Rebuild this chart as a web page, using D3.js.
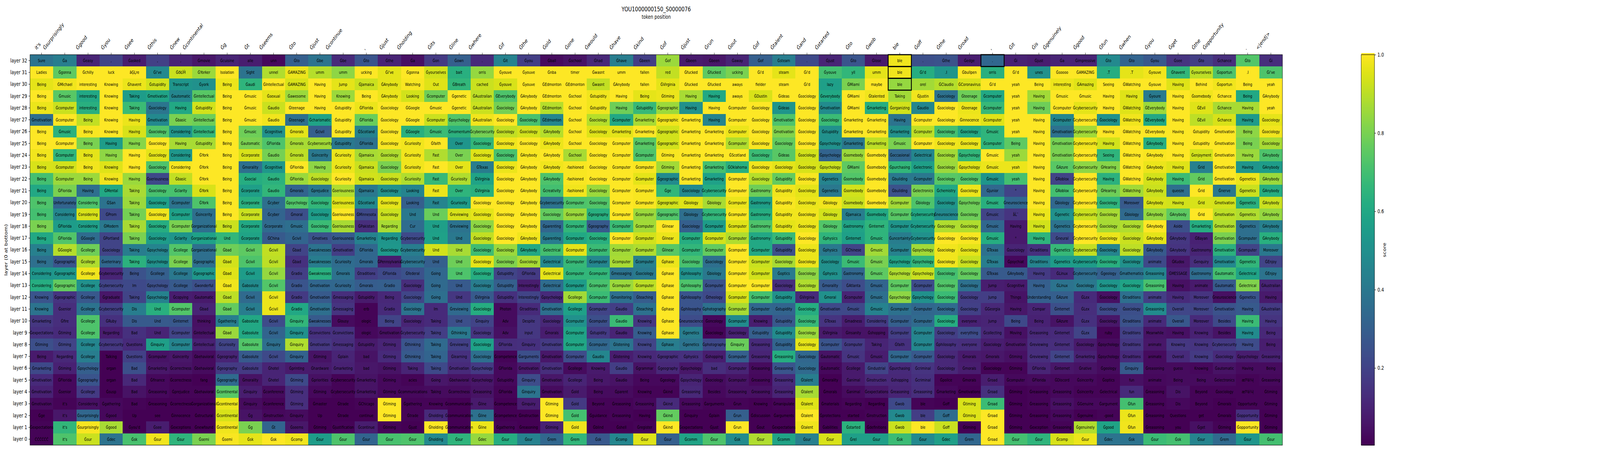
<!DOCTYPE html>
<html>
<head>
<meta charset="utf-8">
<script src="https://cdnjs.cloudflare.com/ajax/libs/d3/7.8.5/d3.min.js"></script>
<style>
  html, body { margin: 0; background: #fff; overflow: hidden; }
  text { font-family: "DejaVu Sans", sans-serif; fill: #000; }
</style>
</head>
<body>
<div id="chart"></div>
<script>
const title = "YOU1000000150_S0000076"
const xTitle = "token position"
const yTitle = "layer (0 at bottom)"
const cbarTitle = "score"

// input tokens, one per column
const inputTokens = ["it's","Ġsurprisingly","Ġgood","Ġyou","Ġsee","Ġthis","Ġnew","Ġcontinental","Ġg","Ġt","Ġseems","Ġto","Ġjust","Ġcontinue",",","Ġjust","Ġholding","Ġits","Ġline","Ġwhere","Ġif","Ġthe","Ġold","Ġone","Ġwould","Ġhave","Ġkind","Ġof","Ġjust","Ġrun","Ġout","Ġof","Ġtalent","Ġand","Ġstarted","Ġto","Ġwob","ble","Ġoff","Ġthe","Ġroad",",","Ġit","Ġis","Ġgenuinely","Ġgood","Ġfun","Ġwhen","Ġyou","Ġget","Ġthe","Ġopportunity",".","<|end|>"]
const layers = d3.range(32, -1, -1)
const colorbarTicks = [0.2, 0.4, 0.6, 0.8, 1.0]

// black boxes: [column, layer]
const boxedCells = [[37, 32], [37, 31], [37, 30], [41, 32]]

// top token per column, layer 32 first
const tokenColumns = [
"Sure Ladies Being Being Being Ġmotivation Being Being Being Being Being Being Being Being Being Being Being Being Considering Considering Knowing Knowing Ġmarketing Ġexpectations Ġtiming Being Ġmarketing Ġmotivation Ġmotivation Ġmotivation Ġge Ġexpectations ĊĊĊĊĊĊ",
"Ġa Ġgonna ĠMichael Ġmusic Ġcomputer Ġcomputer Ġmusic Ġcomputer Ġcomputer Ġcomputer Ġcomputer ĠFlorida Unfortunately Considering ĠFlorida ĠFlorida ĠGoogle Ġgeographic Ġgeographic Ġgeographic Ġgeographic Ġsenior Ġfire Ġtiming Ġtiming Regarding Ġtiming ĠFlorida Ġsenior it's it's it's it's",
"Ġeasy Ġchilly interesting interesting interesting Being Being Being Being Being Being Having Considering Considering Considering ĠGoogle Ġcollege Ġcollege Ġcollege Ġcollege Ġcollege Ġcollege Ġcollege Ġcollege Ġcollege Ġcollege Ġpsychology Ġgeography Ġcollege Considering Ġsurprisingly Ġsurprisingly Ġsur",
", luck Knowing Knowing Knowing Knowing Knowing Having Having Knowing Knowing ĠMental ĠSan ĠProm ĠModern ĠPortland Ġsociology Ġveterinary Ġcybersecurity Ġcybersecurity Ġgraduate Ġcybersecurity ĠRuby Regarding Ġcybersecurity Talking organ organ Ġsusp Ġgathering Ġgood Ġgood Ġdec",
"Ġasked âĢĻre Ġhavent Taking Taking Having Having Having Having Having Having Taking Taking Taking Taking Taking Taking Taking Being Im Taking Dis Dis Bad Questions Questions Bad Bad Bad Bad Up Ġyou'd Ġsk",
", Ġi've Ġstupidity Ġmotivation Ġsociology Ġmotivation Ġsociology Ġsociology Ġsociology Ġsociology Ġseriousness Ġsociology Ġsociology Ġsociology Ġsociology Ġsociology Ġpsychology Ġpsychology Ġcollege Ġpsychology Ġpsychology Und Und Und Ġinquiry Ġcomputer Ġmarketing Ġfinance Ġreasoning Ġreasoning see Ġsee Ġsur",
", ĠðŁĺĤ Transcript Ġautomatic Having Ġbasic Considering Having Considering Considering Ġbasic Ġclarity Ġcomputer Ġcomputer Ġcomputer Ġclarity Ġcollege Ġcollege Ġcollege Ġcollege Ġcopying Ġcomputer Ġinternet Ġcomputer Ġcomputer Ġsincerity Ġcorrectness Ġcorrectness Ġprejudice Ġcorrectness Ġinnocence Ġexceptions Ġsur",
"Ġmovie ĠYorker Ġyork Ġintellectual Ġstupidity Ġintellectual Ġintellectual Ġstupidity ĠYork ĠYork ĠYork ĠYork ĠYork Ġsincerity Ġorganizational Ġorganizational Ġorganizational Ġgeographic Ġgeographic Ġwonderful Ġautomatic Ġbad thinking Ġintellectual Ġintellectual Ġbehavioral Ġbehavioral fang Ġbehavioral Ġorganizational Ġstructural Ġnewfound Ġsemi",
"Ġcuisine Isolation Being Being Being Being Being Being Being Being Being Being Being Being Being Und Ġbad Ġbad Ġbad Ġbad Ġbad Ġbad Ġgathering Ġbad Ġcuriosity Ġgeography Ġgeography Ġgeography Ġcontinental Ġcontinental Ġcontinental Ġcontinental Ġsemi",
"alle Sight Ġaudi Ġmusic Ġmusic Ġmusic Ġmusic Ġautomatic Ġcorporate Ġmorality Ġsocial Ġcorporate Ġcorporate Ġcorporate Ġcorporate Ġcorporate Ġcivil Ġcivil Ġcivil Ġabsolute Ġcivil Ġcivil Ġabsolute Ġabsolute Ġabsolute Ġabsolute Ġabsolute Ġmorality Ġinquiry Ġinquiry Ġg Ġg Ġsk",
"unn unnel ĠIntellectual Ġsexual Ġaudio Ġaudio Ġcognitive ĠFlorida Ġaudio Ġcognitive Ġaudio Ġaudio Ġcyber Ġcyber Ġcorporate ĠChina Ġcivil Ġcivil Ġcivil Ġcivil Ġcivil Ġcivil Ġcivil Ġcivil Ġinquiry Ġcivil Ġhotel Ġhotel Ġconference Ġconference Ġinstruction Ġt Ġsk",
"Ġto ĠAMAZING ĠAMAZING Ġawesome Ġteenage Ġteenage Ġmorals Ġmorals Ġmorals ĠFlorida ĠFlorida Ġmorals Ġpsychology Ġmoral Ġmusic Ġcivil Ġbad Ġbad Ġradio Ġradio Ġradio Ġradio Ġinquiry Ġinquiry Ġinquiry Ġinquiry Ġprinting Ġtiming Ġtiming Ġtiming Ġinquiry Ġseems Ġcomp",
"Ġbe umm Having Having Having Ġcharismatic Ġcivil Ġcybersecurity Ġsincerity Having Ġsociology Ġprejudice Ġsociology Ġsociology Ġsociology Ġmotives Ġweaknesses Ġweaknesses Ġweaknesses Ġmotivation Ġmotivation Ġmotivation Ġweaknesses Ġconvictions Ġmotivation Ġtiming Ġhardware Ġpriorities Ġtiming Ġmaster Up Ġtiming Ġsur",
"Ġbe umm Jump Knowing Ġstupidity Ġstupidity Ġstupidity Ġstupidity Ġcuriosity Ġcuriosity Ġcuriosity Ġseriousness Ġseriousness Ġseriousness Ġseriousness Ġseriousness Ġmotivation Ġcuriosity Ġmorals Ġcuriosity Ġmessaging Ġmessaging Ġlousy Ġconvictions Ġmessaging Ġplain Ġmarketing Ġcybersecurity Ġcybersecurity Ġtrade Ġtrade Ġjustification Ġsur",
"Ġto ucking ĠJamaica Being ĠFlorida ĠFlorida ĠScotland ĠFlorida ĠJamaica ĠJamaica ĠJamaica ĠJamaica ĠScotland ĠMinnesota ĠPakistan Ġmarketing ĠFlorida Ġmorals Ġtraditions Ġmorals Ġstupidity erb ologic ologic Ġstupidity bad bad Ġmarketing Ġmarketing ĠChicago continue Ġcontinue Ġsur",
"Ġthe Ġi've ĠAnybody ĠAnybody Ġsociology Ġsociology Ġsociology Ġsociology Ġsociology Ġsociology Ġsociology Ġsociology Ġsociology Ġsociology Regarding Regarding Ġsociology ĠPennsylvania ĠFlorida Ġradio Being Ġradio Being Ġmotivation Ġtiming Ġtiming Ġtiming Ġtiming Ġtiming Ġtiming Ġtiming Ġtiming Ġsur",
"Ġa Ġgonna Watching Looking ĠGoogle ĠGoogle ĠGoogle Ġcuriosity Ġcuriosity Ġcuriosity Ġcuriosity Looking Looking Und Cur Ġcybersecurity Ġcybersecurity Ġcybersecurity Ġfederal Ġsociology Ġsociology Ġsociology Ġsociology Ġcybersecurity Ġthinking Ġthinking Taking acies Ġcommunications Ġgathering Ġtrade Ġjust Ġsur",
"Ġon Ġyourselves Out Ġcomputer Ġmusic Ġcomputer Ġmusic Ġfaith Fast Fast Fast Fast Fast Und Und Und Und Und Going Going Going Im Taking Taking Taking Taking Taking Going Taking Knowing Ġholding Ġholding Ġholding",
"Ġown bait ĠBreath Ġgenetic Ġgenetic Ġpsychology Ġmomentum Over Over Over Ġcuriosity Over Ġcuriosity Ġreviewing Ġreviewing Und Und Und Und Und Und Ġreviewing Und Ġthinking Ġreviewing Ġlearning Ġmotivation Ġbehavioral Ġcorrectness Ġcommunication Ġcommunication Ġcommunication Ġsur",
". orris cached ĠAustralian ĠAustralian ĠAustralian Ġcybersecurity Ġsociology Ġsociology ĠTexas ĠVirginia ĠVirginia Ġsociology Ġsociology Ġsociology Ġsociology Ġsociology Ġsociology Ġsociology Ġsociology ĠVirginia Ġsociology Ġinquiry Ġsociology Ġsociology Ġsociology Ġpsychology Ġpsychology Ġreasoning Ġline Ġline Ġline Ġdec",
"Ġit Ġyouve Ġyouve ĠEverybody Ġsociology Ġsociology Ġsociology Ġsociology Ġsociology Ġsociology Ġsociology Ġsociology Ġsociology Ġsociology Ġsociology Ġsociology Ġsociology Ġsociology Ġstupidity Ġstupidity Ġstupidity Photon Adv Adv ĠFlorida Ġcompetence ĠFlorida Ġstupidity ĠFlorida Ġcompetence Ġcompetence Ġgathering Ġsur",
"Ġyou Ġyouve Ġyouve ĠAnybody ĠAnybody Ġsociology Ġsociology Ġsociology ĠAnybody ĠAnybody ĠAnybody ĠAnybody ĠAnybody ĠAnybody ĠAnybody ĠAnybody ĠAnybody Ġsociology ĠFlorida Interestingly Interestingly Ġtraditions Despite input Ġinquiry Ġarguments Ġmotivation Ġinquiry Ġinquiry Ġinquiry Ġinstruction Ġreasoning Ġsur",
"Ġball Ġnba ĠEdmonton ĠEdmonton ĠEdmonton ĠEdmonton ĠAnybody ĠAnybody ĠAnybody ĠAnybody ĠAnybody Ġcreativity Ġcybersecurity Ġsociology Ġparenting Ġparenting Ġelectrical Ġelectrical Ġelectrical Ġelectrical Ġpsychology Ġmotivation Ġsociology Ġmorals Ġmotivation Ġmotivation Ġmotivation Ġmotivation Ġmotivation Ġtiming Ġtiming Ġtiming Ġrem",
"Ġschool timer ĠEdmonton Ġschool Ġschool Ġschool Ġschool Ġschool Ġschool -fashioned -fashioned -fashioned Ġcomputer Ġcomputer Ġcomputer Ġcomputer Ġcomputer Ġcomputer Ġcomputer Ġcomputer Ġcollege Ġcollege Ġcomputer Ġcomputer Ġcomputer Ġcomputer Ġcollege Ġcollege Ġold Ġold Ġold Ġold Ġrem",
"Ġhad Ġwasnt Ġwasnt Ġstupidity Ġstupidity Ġsociology Ġsociology Ġsociology Ġsociology Ġsociology Ġsociology Ġsociology Ġsociology Ġgeography Ġgeography Ġsociology Ġcomputer Ġcomputer Ġcomputer Ġcomputer Ġcomputer Ġcomputer Ġcomputer Ġstupidity Ġcomputer Ġaudio Knowing Being Being Beyond Ġguidance Ġblind Ġsk",
"Ġhave umm ĠAnybody Having Having Ġcomputer Ġmarketing Ġcomputer Ġcomputer Ġcomputer Ġcomputer Ġcomputer Ġcomputer Ġcomputer Ġcomputer Ġcomputer Ġcomputer Ġcomputer Ġmessaging Ġcomputer Ġmonitoring Ġaudio Ġaudio Ġaudio Ġlistening Ġlistening Ġaudio Ġaudio Ġparent Ġreasoning Ġreasoning Ġshell Ġcomp",
"Ġbeen fallen fallen Being Ġstupidity Ġmarketing Ġmarketing Ġmarketing Ġcomputer Ġcomputer Ġcomputer Ġcomputer Ġcomputer Ġcomputer Ġcomputer Ġcomputer Ġcomputer Ġcomputer Ġsociology Ġcomputer Ġteaching Ġteaching Knowing Knowing Knowing Knowing Ġgrammar Being Knowing Ġreasoning Having Ġregister Ġsur",
"Ġof red ĠVirginia Ġtiming Ġgeographic Ġgeographic Ġgeographic Ġgeographic Ġtiming Ġtiming Ġgeographic Ġge Ġgeographic Ġgeographic Ġlinear Ġlinear Ġlinear Ġphase Ġphase Ġphase Ġphase Ġphase Ġphase Ġphase Ġphase Ġgeographic Ġgeography Ġgeology Ġkind Ġkind Ġkind Ġkind Ġsur",
"Ġbeen Ġfucked Ġfucked Having Having Ġmarketing Ġmarketing Ġmarketing Ġmarketing Ġmarketing Ġmarketing Ġsociology Ġbiology Ġbiology Ġsociology Ġcomputer Ġcomputer Ġsociology Ġphilosophy Ġphilosophy Ġphilosophy Ġphilosophy Ġneuroscience Ġgenetics Ġgenetics Ġphysics Ġpsychology Ġpsychology Ġreasoning Ġreasoning Ġinquiry Ġexpectations Ġcomm",
"Ġbeen Ġfucked Ġfucked Having Having Having Ġmarketing Ġmarketing Ġmarketing Ġmarketing Ġmarketing Ġcybersecurity Ġbiology Ġcybersecurity Ġcomputer Ġcomputer Ġcomputer Ġsociology Ġbiology Ġcomputer Ġtheology Ġphotography Ġoncology Ġsociology Ġphotography Ġshopping bad Ġsociology Besides Ġarguments Ġplain Ġjust Ġsur",
"Ġaway ucking aways aways Ġcomputer Ġcomputer Ġcomputer Ġcomputer ĠScotland ĠOklahoma Ġcomputer Ġcomputer Ġcomputer Ġcomputer Ġcomputer Ġcomputer Ġcomputer Ġcomputer Ġcomputer Ġcomputer Ġcomputer Ġcomputer Ġcomputer Ġsociology Ġinquiry Ġcomputer Ġcomputer Ġcomputer Ġreasoning Ġrun Ġrun Ġrun Ġsk",
"Ġof Ġi'd fielder ĠDustin Ġsociology Ġsociology Ġsociology Ġsociology Ġsociology Ġsociology Ġsociology Ġastronomy Ġastronomy Ġastronomy Ġastronomy Ġastronomy Ġcomputer Ġcomputer Ġcomputer Ġcomputer Ġcomputer Ġcomputer Knowing Ġstupidity Ġreasoning Ġreasoning Ġreasoning Ġreasoning Ġreasoning Knowing Ġdiscussion Ġout Ġsur",
"Ġsteam steam steam Ġideas Ġideas Ġmotivation Ġmotivation Ġsociology Ġideas Ġsociology Ġstupidity Ġstupidity Ġstupidity Ġstupidity Ġstupidity Ġstupidity Ġstupidity Ġsociology Ġoptics Ġsociology Ġstupidity Ġstupidity Ġstupidity Ġstupidity Ġstupidity Ġreasoning Ġreasoning Ġreasoning Ġreasoning Ġmanipulate Ġarguments Ġexpectations Ġcomm",
". Ġi'd Ġi'd Ġsociology Ġsociology Ġsociology Ġsociology Ġsociology Ġsociology Ġsociology Ġsociology Ġsociology Ġsociology Ġsociology Ġsociology Ġsociology Ġsociology Ġsociology Ġsociology Ġsociology ĠVirginia Ġsociology Ġsociology Ġsociology Ġsociology Ġsociology Ġsociology Ġtalent Ġtalent Ġtalent Ġtalent Ġtalent Ġsur",
"Ġjust Ġyouve lazy Ġeverybody Ġmotivation Ġsociology Ġstupidity Ġpsychology Ġpsychology Ġpsychology Ġgenetics Ġgenetics Ġbiology Ġbiology Ġbiology Ġphysics Ġphysics Ġsociology Ġphysics Ġmorality Ġmoral Ġmotivation ĠTexas ĠVirginia Ġcomputer Ġautomatic Ġautomatic Ġmorality Ġmorals Ġmaterials Ġprotections Ġabilities Ġsur",
"Ġto yll ĠMiami ĠMiami ĠMiami Ġmarketing Ġmarketing Ġmarketing Ġsomebody ĠMiami Ġsomebody Ġsomebody Ġsomebody ĠJamaica Ġastronomy Ġinternet ĠChinese Ġmusic Ġastronomy ĠAtlanta Ġcomputer Ġmusic Ġmadness Ġinsanity Ġcomputer Ġmusic Ġcollege Ġanimal Ġanimal Regarding started Ġstarted Ġrel",
"Ġlose umm maybe Ġtalented Ġmarketing Ġmarketing Ġmarketing Ġmarketing Ġsomebody Ġsomebody Ġsomebody Ġsomebody Ġsomebody Ġsomebody Ġinternet Ġmusic Ġmusic Ġmusic Ġmusic Ġmusic Ġmusic Ġmusic Considering Ġshopping Taking Ġmusic Ġindustrial Ġinstruction Ġexpectations Regarding Ġinstruction Ġdefinitions Ġsur",
"ble ble ble Taking Ġorganizing Having Ġmarketing Ġmusic Ġoccasional Ġpurchasing Ġbuilding Ġbuilding Ġcomputer Ġcomputer Ġcomputer Ġuncertainty Ġcomputer Ġpsychology Ġpsychology Ġcomputer Ġpsychology Ġcomputer Ġcomputer Ġcomputer Ġfaith Ġcomputer Ġpurchasing Ġshopping Ġreasoning Ġwob Ġwob Ġwob Ġsk",
". Ġi'd orel ĠJustin Ġaudio Ġcomputer Ġcomputer Ġcomputer Ġelectrical Ġelectronic Ġcomputer Ġelectronics Ġbiology Ġcybersecurity Ġcybersecurity Ġcybersecurity Ġpsychology Ġpsychology Ġpsychology Ġcomputer Ġpsychology Ġcomputer Ġcomputer Ġcomputer Ġcomputer Ġcomputer Ġcriminal Ġcriminal Ġreasoning ble ble ble Ġsur",
"Ġthe .I ĠClaudio Ġsociology Ġsociology Ġsociology Ġsociology Ġsociology Ġsociology Ġsociology Ġsociology Ġchemistry Ġsociology Ġneuroscience Ġsociology Ġsociology Ġsociology Ġsociology Ġsociology Ġsociology Ġsociology Ġsociology Ġsociology Ġsociology Ġphilosophy Ġsociology Ġsociology Ġpolice Ġmarketing Ġoff Ġoff Ġoff Ġdec",
"Ġedge Ġbullpen ĠCoronavirus Ġteenage Ġteenage Ġinnocence Ġsociology Ġsociology Ġpsychology Ġpsychology Ġsociology Ġsociology Ġpsychology Ġsociology Ġsociology Ġsociology Ġsociology Ġsociology Ġsociology Ġsociology Ġsociology Ġsociology everyone everything everyone Ġmorals Ġmorals Ġmorals Ġmotivations Ġtiming Ġtiming Ġtiming Ġrem",
". orris Ġi'd Ġcomputer Ġcomputer Ġcomputer Ġmusic Ġcomputer Ġmusic Ġmusic Ġmusic Ġjunior Ġmusic Ġmusic Ġmusic Ġmusic ĠTexas ĠTexas ĠTexas Jump Jump ĠGeorgia Jump Ġcollecting Ġsociology Ġmorals Ġsociology Ġroad Ġroad Ġroad Ġroad Ġroad Ġroad",
"Ġi Ġi'd yeah yeah yeah yeah yeah Being yeah yeah yeah ° Ġneuroscience åĹ¯ Having ° Ġsociology Ġpsychiat ĠAnybody Ġcognitive Things Having Being Moving Ġmotivation Ġtiming Ġtiming Ġcomputer Ġtiming Ġtiming Ġtiming Ġtiming Ġsur",
"Ġjust unes Being Having Having Having Having Having Having Having Having Having Having Having Having Having Ġtraditions Ġtraditions Having Having Understanding Compar Being Ġreasoning Ġreviewing Ġreviewing ĠFlorida ĠFlorida Ġreasoning Ġreasoning Ġreasoning Ġexception Ġsur",
"Ġa Ġsoooo interesting Ġmusic Ġcomputer Ġcomputer Ġmotivation Ġmotivation Ġmotivation ĠAzure ĠRoblox ĠRoblox Ġbiology Ġgenetic Ġgenetics Ġneural Ġgenetics Ġgenetics ĠLinux ĠLinux ĠAzure Ġinternet ĠAzure Ġinternet Ġinternet Ġinternet Ġinternet ĠDiscord Ġreasoning Ġreasoning Ġreasoning Ġreasoning Ġcomp",
"Ġimpressive ĠAMAZING ĠAmazing Ġmusic Ġcybersecurity Ġcybersecurity Ġcybersecurity Ġcybersecurity Ġcybersecurity Ġcybersecurity Ġcybersecurity Ġcybersecurity Ġcybersecurity Ġcybersecurity Ġcybersecurity Ġcybersecurity Ġcybersecurity Ġcybersecurity Ġcybersecurity Ġsociology ĠLex ĠLex ĠLex ĠLex Ġsociology Ġmarketing Ġnative Ġsincerity Ġsincerity ĠGenuine Ġgenuine Ġgenuinely Ġsur",
"Ġto .T Seeing Having Having Ġsociology Having Having Seeing ĠHearing Having ĠHearing Ġsociology Ġsociology Ġsociology Ġsociology Ġsociology Ġsociology Ġgeology Ġsociology Ġsociology Ġsociology Ġsociology ruby Ġpsychology Ġpsychology Ġgeology Ġoptics Ġelectrical Ġargument -good Ġgood Ġdec",
"Ġto .T ĠWatching Having ĠWatching ĠWatching ĠWatching ĠWatching ĠWatching ĠWatching ĠWatching ĠWatching Moreover Ġbiology Ġsociology Ġsociology Ġsociology Ġsociology Ġmathematics Ġsociology Ġtraditions Ġsociology Ġtraditions Ġtraditions Ġtraditions Ġtraditions Ġinquiry fun fun Ġfun Ġfun Ġfun Ġsk",
"Ġyou Ġyouve Ġyouve Ġyoure ĠEverybody ĠEverybody ĠEverybody ĠAnybody ĠAnybody ĠAnybody ĠAnybody ĠAnybody ĠAnybody ĠAnybody ĠAnybody ĠAnybody ĠAnybody animate Ġreasoning Ġreasoning animate Ġreasoning animate Meanwhile animate animate Ġreasoning animate Ġreasoning Ġreasoning Ġreasoning Ġreasoning Ġsur",
"Ġsee Ġhavent Having Having Having Having Having Having Having Having Having queeze Having ĠAnybody Aside ĠAnybody ĠAnybody ĠKudos ĠMESSAGE Having Having Overall Overall Having Knowing Overall guess Being Dis Dis Questions you Ġsk",
"Ġto Ġyourselves Behind Ġsomebody ĠEvil ĠEvil Ġstupidity Ġstupidity Ġenjoyment Ġrid Ġrid Ġrid Ġrid Ġrid Ġmarketing ĠBayan Ġastronomy Ġenquiry Ġastronomy animate Moreover Moreover Moreover Knowing Knowing Knowing Knowing Being Beyond Beyond get Ġget Ġsur",
"Ġchance Ġoportun Ġoportun Ġchance Ġchance Ġchance Ġmotivation Ġmotivation Ġmotivation Ġmotivation Ġmotivation Ġnerve Ġmotivation Ġmotivation Ġmotivation Ġmotivation Ġmotivation Ġmotivation Ġautomatic Ġautomatic Ġneuroscience Ġmotivation Besides Besides Ġcybersecurity Ġsociology Ġautomatic Ġelectronics Ġsociology Ġmorals Ġmorals Ġtiming Ġrem",
"Ġto .I Being Being Having Having Being Being Having Having Ġgenetics Ġgenetics Ġgenetics Ġgenetics Ġgenetics Ġcomputer Ġcomputer Ġgenetics Ġelectrical Ġelectrical Ġgenetics Having Having Having Having Ġpsychology Having æľºä¼ļ æľºä¼ļ Opportunity Ġopportunity Ġopportunity Ġsur",
"Ġi Ġi've yeah ĠAnybody yeah Ġsociology Ġsociology Ġsociology ĠAnybody ĠAnybody ĠAnybody ĠAnybody ĠAnybody ĠAnybody ĠAnybody ĠAnybody Moreover ĠEnjoy ĠEnjoy ĠAustralian Having ĠAustralian Having Being Being Ġreasoning Being Ġreasoning Ġtiming Ġtiming Ġtiming Ġtiming Ġsur"
].map(s => s.split(" "))

// score of that token, same order
const scoreColumns = [
[.38,1,.96,1,.97,.36,1,1,.98,.94,.7,.6,.72,.7,.8,.6,.43,.36,.52,.62,.26,.38,.16,.14,.24,.07,.22,.12,.09,.03,0,.01,.01],
[.42,.75,.98,.74,.92,1,.64,1,.65,.93,.85,.8,.32,.46,.55,.73,.89,.26,.53,.76,.15,.13,.13,.12,.2,.11,.09,.02,.02,.01,.06,.66,.72],
[.1,1,1,.6,.63,.91,.99,.8,.96,.98,.85,.36,.72,.94,.56,.35,.78,.88,.98,.5,.27,.38,.72,.72,.46,.42,.3,.26,.17,.04,.33,.99,.92],
[.2,1,1,1,1,1,1,.55,.83,.95,.98,.6,.38,.22,.4,.2,.2,.33,.1,.2,.06,.18,.14,.08,.16,0,0,0,0,.02,.02,.87,.38],
[.08,1,.97,.55,.68,.97,.94,.82,1,1,.85,.87,.85,.79,.87,.8,.42,.64,.25,.22,.2,.42,.28,.14,.12,.19,.24,.11,.05,.01,0,0,.71],
[.19,.47,.93,.58,.39,.47,.73,1,.96,.72,.22,.71,.57,.98,.62,.55,.45,.5,.3,.24,.44,.63,.28,.1,.56,.05,.06,.02,.02,0,0,.08,.98],
[.1,.92,.52,.46,.6,.8,.52,.87,.53,.99,.91,.71,.38,.57,.8,.52,.73,.8,.4,.28,.08,.73,.27,.2,.45,.06,.05,.01,.01,0,0,0,.65],
[.06,.85,.5,.74,.93,.78,.66,.87,1,1,1,.94,.72,.36,.36,.57,.36,.36,.53,.24,.07,.1,.04,.05,.09,.03,.03,0,.01,0,0,0,.8],
[.1,1,.97,1,1,1,1,1,1,1,1,1,1,1,.92,.66,.78,.93,.95,.98,.9,.76,.42,.85,.2,.1,.17,.34,.74,.97,.94,.98,.99],
[.08,.38,.65,1,1,1,.78,.8,.94,.36,.62,.56,.63,.92,.6,.58,.75,.72,.55,.48,.34,.42,.6,.6,.73,.28,.17,.05,.08,.03,.05,.8,.96],
[.02,.88,1,.96,.92,.98,.5,.72,.79,.53,.64,.66,.36,.32,.34,.28,.91,.9,.84,.73,.97,.97,.23,.32,.36,.22,.1,.1,.03,.01,.02,.32,1],
[.3,.97,.94,.85,1,.36,.96,.87,.9,1,.85,.32,.73,.24,.36,.32,.2,.14,.18,.26,.17,.6,.66,.5,.88,.31,.07,.22,.13,.13,.03,.06,.98],
[.38,.89,1,1,1,.58,.3,.86,.4,.83,.9,.4,.66,.55,.68,.25,.38,.42,.63,.33,.28,.36,.28,.14,.16,.05,.07,.04,.02,0,0,0,.55],
[.12,.83,.96,.85,1,1,1,.4,.97,.97,1,.88,.95,1,.87,.28,.18,.35,.37,.33,.13,.15,.03,.14,.13,.1,.09,.01,.01,0,0,.01,.72],
[.26,1,.92,1,.97,.77,.44,.37,.87,.92,.93,.4,.47,.22,.13,.44,.33,.33,.18,.29,.07,.01,.01,.02,.07,.05,.06,.05,.05,.01,0,.08,.32],
[.1,.96,.96,.97,1,1,1,.99,.88,.8,.92,.5,.96,.92,.87,.52,.53,.08,.22,.3,.11,.12,.2,.04,.1,.12,.05,.02,.02,1,1,.01,.71],
[.04,1,.99,.93,1,1,.63,.98,.98,.98,.88,.45,.3,.4,.35,.22,.42,.38,.25,.13,.21,.38,.1,.13,.26,.28,.1,.01,.02,.01,.01,0,.72],
[.17,.93,.95,.78,1,.92,.68,1,.88,1,.67,.97,.45,.77,.56,.57,.93,.3,.33,.34,.36,.12,.12,.18,.34,.32,.22,.06,.03,.01,.12,1,.47],
[.3,.63,.66,1,1,.73,.64,.52,.8,.96,.88,.65,.55,.94,.38,.4,.87,.78,.72,.28,.16,.34,.24,.4,.19,.14,.12,.05,.03,0,0,0,.65],
[.12,.84,.92,.9,.92,.98,.79,.66,.95,.42,.58,.63,1,.96,.83,.91,.69,.96,.62,.42,.28,.62,.2,.15,.57,.36,.17,.06,.05,.07,.37,.97,.84],
[.44,1,.94,.72,.79,1,.91,.98,.71,.97,1,1,1,1,1,1,.85,.81,.2,.3,.14,.03,.03,.04,.13,.01,.02,.02,.01,0,0,.01,.62],
[.18,1,1,1,1,.71,.93,1,.99,1,1,1,1,1,1,.98,.6,.87,.17,.08,.2,.12,.16,.16,.14,.24,.07,.23,.38,.08,0,0,.44],
[.03,1,1,1,.89,.46,.89,.97,1,.98,.72,.7,.38,.76,.33,.42,.7,.47,.96,.35,.12,.36,.11,.08,.17,.06,.13,.06,.03,1,1,.09,.33],
[.05,1,1,1,1,1,1,1,.87,.99,.99,.98,.72,.85,.66,.6,.96,.67,.66,.55,.86,.57,.5,.58,.59,.23,.03,.1,.07,.17,.7,.98,.66],
[.11,1,.91,.98,.98,.89,.95,1,1,1,1,.85,.73,.63,.28,.63,.68,.46,.66,.71,.68,.2,.24,.17,.33,.46,.07,.06,.03,.01,0,0,.27],
[.42,1,1,1,.78,.6,.96,1,1,1,1,1,1,1,.68,1,.86,.87,.38,.85,.36,.18,.68,.1,.38,.08,.18,.05,.03,.01,.01,0,.46],
[.18,1,1,.96,.67,.87,1,.74,.72,.99,.96,.99,.99,.85,.86,.93,.88,.43,.41,.9,.29,.37,.16,.29,.2,.11,.05,.02,.01,.02,0,.01,.95],
[.85,.91,.96,.97,.85,.98,.93,.93,.99,.86,.48,.66,.93,.73,1,.97,.74,.97,1,1,1,1,1,1,.42,.13,.11,.02,.01,.12,.76,1,.3],
[.07,1,1,.87,.5,1,1,1,1,1,1,.47,.95,.36,.3,.62,.66,.71,.5,.72,.26,.26,.23,.42,.38,.14,.06,.1,.11,.02,0,0,.58],
[.06,.75,1,.6,1,.45,1,1,1,.7,.57,.62,.87,.66,.55,.93,.76,.36,.4,.25,.22,.37,.02,.01,.22,.08,.13,.03,.02,.01,0,0,.72],
[.1,.8,1,1,1,1,.97,.88,1,.63,1,1,.97,.99,.95,.88,1,1,1,1,.94,.87,.48,.09,.77,.3,.1,.05,.04,.01,.3,1,.48],
[.3,1,1,.94,1,1,1,.99,.68,.98,.89,.78,.56,.62,.72,.6,.6,.92,.93,1,.7,.33,.08,.3,.12,.1,.03,.02,.04,0,0,0,.88],
[.42,.96,1,1,.52,.72,.81,.76,.74,.96,.76,.98,.99,.98,.96,.67,.24,.87,.41,.13,.5,.32,.27,.48,.32,.62,.26,.12,.1,.01,0,0,.58],
[.22,1,1,1,1,1,1,1,.93,.94,.99,.96,.97,.98,.97,1,.97,.97,.83,.88,.12,.62,.67,.85,.96,.33,.34,.42,.87,.95,1,.98,.43],
[.1,.7,.56,.6,.48,.68,.5,.5,.32,.92,.45,.4,.98,.93,.73,.65,.4,.5,.5,.28,.5,.22,.15,.07,.26,.05,.02,0,0,0,0,0,.94],
[.26,.66,.8,1,1,1,1,.4,.85,.75,.73,.93,.92,.42,.58,.56,.2,.68,.33,.23,.1,.22,.08,.05,.17,.15,.07,.07,.03,.01,0,.64,.56],
[.07,.96,1,.98,.62,1,1,.9,1,1,1,1,1,.6,.65,.65,.86,.8,.75,.32,.36,.44,.17,.05,.1,.08,.2,.11,.06,0,.01,0,.56],
[.98,.98,.84,.86,.93,.38,.5,.8,.33,.66,.4,.25,.86,.74,.52,.42,.44,.58,.88,.75,.83,.37,.3,.18,.14,.33,.12,.11,.1,.22,.47,.92,.68],
[.24,.62,.86,.98,.46,1,.9,1,.46,.56,.4,.8,.72,.6,.55,.5,.86,.66,.92,.23,.5,.33,.34,.45,.46,.27,.15,.14,.13,.01,.18,1,.47],
[.25,.52,.89,.37,1,1,.7,.98,.86,.85,.74,.6,.52,.47,.88,1,.98,.98,.7,.73,.68,.34,.62,.18,.14,.11,.11,.01,.02,0,.35,.92,.56],
[.08,1,.94,.78,.97,.98,.6,.97,.66,.95,.73,.97,.78,.78,.88,.99,.96,.92,.76,.37,.18,.19,.09,.23,.13,.07,.08,.01,0,.94,.95,0,.33],
[.33,.63,1,.6,.67,.95,.65,.65,1,.97,.52,.33,.63,.2,.33,.62,.37,.42,.28,.08,.18,.11,.1,.11,.08,.06,.01,.08,.14,.68,1,1,1],
[.09,1,1,1,1,1,1,.75,.85,.97,.7,.2,.33,.15,.07,.07,.1,.02,.28,.07,.05,.06,.22,.04,.06,.04,.01,.02,0,0,0,0,.7],
[.08,.5,1,.86,.78,1,1,1,1,1,1,1,1,.97,.93,.65,.14,.45,.17,.3,.3,.1,.09,.11,.13,.13,.1,.03,.01,.01,0,0,.65],
[.1,1,.97,1,1,.46,.37,.79,.8,.74,.2,.7,.33,.5,.38,.22,.67,.55,.12,.38,.3,.24,.05,.12,.13,.2,.06,.02,.02,.04,.02,.01,.94],
[.1,1,.95,1,.96,1,.86,.98,1,.83,1,1,1,.92,1,1,.91,.55,.35,.4,.12,.13,.14,.2,.07,.09,.05,.02,.01,.02,0,.88,.97],
[.47,.62,1,1,1,.5,1,.93,.65,.82,.64,.78,.65,.87,.87,.97,.45,.63,.3,.52,.04,.22,.06,.01,.03,.03,.03,.01,.01,.02,.01,.58,.38],
[.32,.96,1,.95,.95,.98,1,1,1,1,1,.86,.28,.34,.88,.92,.9,.5,.37,.58,.36,.24,.25,.19,.16,.12,.28,.04,.12,.7,.97,.98,.38],
[.27,.98,1,.41,.85,.6,1,.62,.99,.97,.93,.92,.94,.84,1,.96,.28,.22,.45,.71,.18,.48,.12,.05,.06,.03,.03,.02,.01,.01,0,0,.68],
[.15,.66,.95,1,1,1,1,1,1,.95,.68,.36,.93,.75,.24,.16,.15,.06,.09,.04,.12,.21,.27,.04,.16,.12,.03,.03,.05,.02,0,0,.7],
[.18,.9,1,.98,.95,.9,1,1,.93,.43,.76,1,.94,1,.62,.09,.1,.13,.35,.07,.15,.2,.12,.09,.15,.17,.02,.03,.01,.01,0,.04,.45],
[.13,.72,.98,1,.87,.94,1,1,1,1,1,.4,.93,.9,.88,.8,.64,.47,.7,.28,.04,.25,.22,.05,.17,.12,.05,.03,.01,0,0,.01,.34],
[.73,1,1,.6,.87,.54,.83,.8,.85,.52,.97,.92,.63,.88,.36,.36,.2,.66,.58,.81,.26,.28,.68,.48,.23,.08,.03,.01,.01,.01,.14,1,.52],
[.13,.72,1,1,1,.96,.98,.87,.72,.55,.85,.62,.92,.84,.43,.63,.4,.2,.38,.1,.07,.17,.15,.11,.08,.09,.03,.02,.01,.01,0,0,.7]
]

// figure layout in the reference's 5400x1155 px
const figW = 5400, figH = 1155
const plotLeft = 101.3, plotTop = 140, plotW = 4227, plotH = 1000
const cbarLeft = 4594, cbarW = 45
const tickFont = 13.9, cellFont = 11

const cells = []
tokenColumns.forEach((col, c) => col.forEach((tok, r) => {
    cells.push({ c: c, layer: layers[r], token: tok, score: scoreColumns[c][r] })
}))

const columnIds = d3.range(inputTokens.length)
const x = d3.scaleBand().domain(columnIds).range([plotLeft, plotLeft + plotW])
const y = d3.scaleBand().domain(layers).range([plotTop, plotTop + plotH])
const color = d3.scaleSequential(d3.interpolateViridis).domain([0, 1])

// the window can come out narrower than asked for, so the figure is fitted to it
const winW = window.innerWidth, winH = window.innerHeight
const fitX = winW / figW

const svg = d3.select("#chart").append("svg")
    .attr("width", winW)
    .attr("height", winH)
    .attr("viewBox", [0, 0, figW, figH])
    .attr("preserveAspectRatio", "none")
    .style("display", "block")

svg.append("g").selectAll("rect")
    .data(cells)
    .enter().append("rect")
    .attr("x", d => x(d.c))
    .attr("y", d => y(d.layer))
    .attr("width", x.bandwidth())
    .attr("height", y.bandwidth())
    .attr("shape-rendering", "crispEdges")
    .style("fill", d => color(d.score))

svg.append("g").selectAll("text")
    .data(cells)
    .enter().append("text")
    .attr("x", d => x(d.c) + x.bandwidth() / 2)
    .attr("y", d => y(d.layer) + y.bandwidth() / 2)
    .attr("dy", "0.35em")
    .style("text-anchor", "middle")
    .style("font-size", cellFont + "px")
    .text(d => d.token)

// boxes round the marked cells
svg.append("g").selectAll("rect")
    .data(boxedCells)
    .enter().append("rect")
    .attr("x", d => x(d[0]))
    .attr("y", d => y(d[1]))
    .attr("width", x.bandwidth())
    .attr("height", y.bandwidth())
    .style("fill", "none")
    .style("stroke", "#000")
    .style("stroke-width", 2.8)

const xAxis = svg.append("g")
    .attr("transform", `translate(0,${plotTop})`)
    .call(d3.axisTop(x).tickSize(4.9).tickPadding(4.9).tickFormat(i => inputTokens[i]))
const yAxis = svg.append("g")
    .attr("transform", `translate(${plotLeft},0)`)
    .call(d3.axisLeft(y).tickSize(4.9).tickPadding(4.9).tickFormat(l => "layer " + l))

for (const ax of [xAxis, yAxis]) {
    ax.selectAll("text").style("font-size", tickFont + "px")
    ax.selectAll("line").style("stroke", "#000").style("stroke-width", 1.1)
    ax.select(".domain").remove()
}

// labels are rotated 45 degrees with the right edge of their box on the tick
xAxis.selectAll(".tick text").each(function (i) {
    const t = d3.select(this)
    t.attr("x", 0).attr("y", 0).attr("dy", "0.35em").style("text-anchor", "middle")
        .attr("transform", "rotate(-45)")
    const box = this.getBoundingClientRect()
    const dx = (x(i) + x.bandwidth() / 2) - box.right / fitX
    const dy = plotTop - 9 - box.bottom
    t.attr("transform", `translate(${dx},${dy}) rotate(-45)`)
})

svg.append("rect")
    .attr("x", plotLeft)
    .attr("y", plotTop)
    .attr("width", plotW)
    .attr("height", plotH)
    .style("fill", "none")
    .style("stroke", "#000")
    .style("stroke-width", 1.1)

svg.append("text")
    .attr("x", plotLeft + plotW / 2)
    .attr("y", 29)
    .style("text-anchor", "middle")
    .style("font-size", "16.67px")
    .text(title)
svg.append("text")
    .attr("x", plotLeft + plotW / 2)
    .attr("y", 48)
    .style("text-anchor", "middle")
    .style("font-size", tickFont + "px")
    .text(xTitle)
svg.append("text")
    .attr("transform", `translate(25,${plotTop + plotH / 2}) rotate(-90)`)
    .style("text-anchor", "middle")
    .style("font-size", tickFont + "px")
    .text(yTitle)

// colorbar
const cbarScale = d3.scaleLinear().domain([0.003, 1]).range([plotTop + plotH, plotTop])
const cbarSteps = d3.range(0, 256).map(i => i / 255)
svg.append("g").selectAll("rect")
    .data(cbarSteps)
    .enter().append("rect")
    .attr("x", cbarLeft)
    .attr("y", d => plotTop + (1 - d - 1 / 256) * plotH)
    .attr("width", cbarW)
    .attr("height", plotH / 256 + 1)
    .attr("shape-rendering", "crispEdges")
    .style("fill", d => color(d))

const cbarAxis = svg.append("g")
    .attr("transform", `translate(${cbarLeft + cbarW},0)`)
    .call(d3.axisRight(cbarScale).tickValues(colorbarTicks).tickSize(4.9).tickPadding(4.9).tickFormat(d3.format(".1f")))
cbarAxis.selectAll("text").style("font-size", tickFont + "px")
cbarAxis.selectAll("line").style("stroke", "#000").style("stroke-width", 1.1)
cbarAxis.select(".domain").remove()

svg.append("rect")
    .attr("x", cbarLeft)
    .attr("y", plotTop)
    .attr("width", cbarW)
    .attr("height", plotH)
    .style("fill", "none")
    .style("stroke", "#000")
    .style("stroke-width", 1.1)

svg.append("text")
    .attr("transform", `translate(4678,${plotTop + plotH / 2}) rotate(-90)`)
    .style("text-anchor", "middle")
    .style("font-size", tickFont + "px")
    .text(cbarTitle)
</script>
</body>
</html>
